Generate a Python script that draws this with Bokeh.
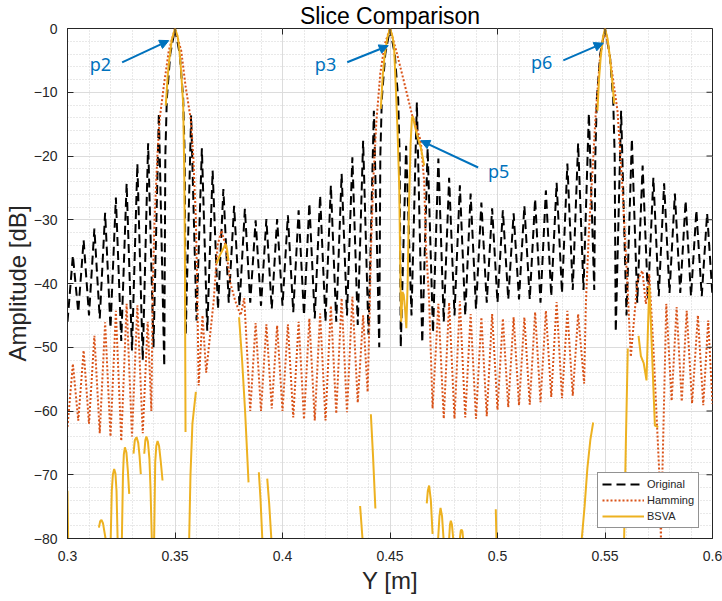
from bokeh.plotting import figure
from bokeh.models import (Range1d, FixedTicker, Arrow, NormalHead,
                          Label, Legend, LegendItem, CustomJSTickFormatter)
from bokeh.embed import file_html
from bokeh.resources import INLINE

NAN = float("nan")

# ---------------- data ----------------
X_TICKS = [0.3, 0.35, 0.4, 0.45, 0.5, 0.55, 0.6]
X_MINOR = [0.31, 0.32, 0.33, 0.34, 0.36, 0.37, 0.38, 0.39, 0.41, 0.42, 0.43, 0.44,
           0.46, 0.47, 0.48, 0.49, 0.51, 0.52, 0.53, 0.54, 0.56, 0.57, 0.58, 0.59]
Y_TICKS = [-80, -70, -60, -50, -40, -30, -20, -10, 0]
Y_MINOR = [-78, -76, -74, -72, -68, -66, -64, -62, -58, -56, -54, -52, -48, -46, -44,
           -42, -38, -36, -34, -32, -28, -26, -24, -22, -18, -16, -14, -12, -8, -6,
           -4, -2]

# Original (unweighted) slice: vertices (lobe nulls / peaks), metres and dB
ORIG_X = [0.300, 0.3025, 0.305, 0.3075, 0.310, 0.3125, 0.315, 0.3175, 0.320, 0.3225,
          0.325, 0.3275, 0.330, 0.3325, 0.335, 0.3375, 0.340, 0.3425, 0.345,
          0.3455, 0.3462, 0.3478, 0.350, 0.3522, 0.3538, 0.3545,
          0.355, 0.3575, 0.360, 0.3625, 0.365, 0.3675, 0.370, 0.3725, 0.375, 0.3775,
          0.380, 0.3825, 0.385, 0.3875, 0.390, 0.3925, 0.395, 0.3975, 0.400, 0.4025,
          0.405, 0.4075, 0.410, 0.4125, 0.415, 0.4175, 0.420, 0.4225, 0.425, 0.4275,
          0.430, 0.4325, 0.435, 0.4375, 0.440, 0.4425, 0.445,
          0.4455, 0.4462, 0.4478, 0.450, 0.4522, 0.4538, 0.4545,
          0.455, 0.4575, 0.460, 0.4625, 0.465, 0.4675, 0.470, 0.4725, 0.475, 0.4775,
          0.480, 0.4825, 0.485, 0.4875, 0.490, 0.4925, 0.495, 0.4975, 0.500, 0.5025,
          0.505, 0.5075, 0.510, 0.5125, 0.515, 0.5175, 0.520, 0.5225, 0.525, 0.5275,
          0.530, 0.5325, 0.535, 0.5375, 0.540, 0.5425, 0.545,
          0.5455, 0.5462, 0.5478, 0.550, 0.5522, 0.5538, 0.5545,
          0.555, 0.5575, 0.560, 0.5625, 0.565, 0.5675, 0.570, 0.5725, 0.575, 0.5775,
          0.580, 0.5825, 0.585, 0.5875, 0.590, 0.5925, 0.595, 0.5975, 0.600]
ORIG_DB = [-46, -35.6, -44.5, -33.2, -45, -31.4, -45.5, -28.9, -47, -26.5,
           -49, -24.3, -50.5, -21.2, -52, -18.0, -50, -13.3, -53,
           -20, -11, -4, 0, -4, -11, -20,
           -48, -13.6, -45.8, -18.8, -47.4, -22.3, -44, -25.2, -43, -27.8,
           -43.5, -28.3, -43, -30.1, -43.5, -29.9, -44, -29.9, -43.5, -29.3,
           -44.5, -28.5, -45, -27.4, -45.5, -26.2, -46, -24.6, -46, -22.8,
           -45, -20.2, -46.5, -17.6, -48, -12.9, -50,
           -20, -11, -4, 0, -4, -11, -20,
           -50, -18.4, -45, -11.6, -49.3, -18.8, -47.7, -20.4, -46, -23.4,
           -45, -24.6, -45, -25.9, -44, -27.3, -43, -28.2, -43, -28.5,
           -42.5, -29.0, -42.5, -27.8, -42.5, -26.7, -43, -25.4, -42, -24.2,
           -41.5, -21.2, -41, -18.0, -41, -13.3, -41,
           -20, -11, -4, 0, -4, -11, -20,
           -47.6, -12.9, -45, -17.3, -43, -21.5, -42.5, -23.4, -42, -24.3,
           -41.5, -25.9, -41.5, -27.0, -42, -28.5, -42, -29.0, -42]

# Hamming-weighted slice
HAM_X = [0.300, 0.3025, 0.305, 0.3075, 0.310, 0.3125, 0.315, 0.3175, 0.320, 0.3225,
         0.325, 0.3275, 0.330, 0.3325, 0.335, 0.3373, 0.3390,
         0.3397, 0.3405, 0.3418, 0.3428, 0.3448, 0.3471, 0.350, 0.3529, 0.3549,
         0.3574, 0.3585, 0.3597, 0.3603, 0.3610,
         0.3628, 0.3645, 0.3680, 0.3698, 0.3716, 0.3735, 0.3758, 0.3780, 0.3805, 0.3822,
         0.385, 0.3875, 0.390, 0.3925, 0.395, 0.3975, 0.400, 0.4025, 0.405, 0.4075,
         0.410, 0.4125, 0.415, 0.4175, 0.420, 0.4225, 0.425, 0.4275, 0.430, 0.4325,
         0.435, 0.4375, 0.4396,
         0.4405, 0.4411, 0.4422, 0.4437, 0.4455, 0.4475, 0.450, 0.4529, 0.4564,
         0.4603, 0.4643, 0.4659, 0.4667, 0.4682, 0.4698,
         0.4725, 0.475, 0.4775, 0.480, 0.4825, 0.485, 0.4875, 0.490, 0.4925, 0.495,
         0.4975, 0.500, 0.5025, 0.505, 0.5075, 0.510, 0.5125, 0.515, 0.5175, 0.520,
         0.5225, 0.525, 0.5275, 0.530, 0.5325, 0.535, 0.5375, 0.5403,
         0.5411, 0.5426, 0.5442, 0.5457, 0.5477, 0.550, 0.5523, 0.5558, 0.5581,
         0.5605, 0.5620,
         0.5651, 0.5674, 0.5690, 0.5706, 0.5725, 0.5752, 0.5760,
         0.5785, 0.5810, 0.5833, 0.5857, 0.5880, 0.5905, 0.5932, 0.5957, 0.5980, 0.600]
HAM_DB = [-62.5, -52.6, -61.5, -50.5, -62, -48.2, -63.5, -46.1, -64, -44.3,
          -64.7, -43.2, -64, -43.4, -63.5, -46, -60,
          -40, -30, -20, -14.4, -9, -3.5, 0, -3.5, -9,
          -14.4, -20, -30, -40, -56,
          -45, -54, -42.7, -34, -31.7, -34, -40, -42.7, -45, -42.3,
          -60, -46.2, -60, -46.4, -59.6, -46.6, -60, -46.4, -61, -46,
          -61.3, -45.5, -61.5, -44.7, -61.5, -43.5, -60.4, -42.3, -60.2, -42.1,
          -58.7, -45, -57,
          -45, -35.3, -24, -14.4, -7, -2.5, 0, -3.5, -8.2,
          -13.6, -17.6, -24, -34, -42.5, -59.6,
          -43.2, -61.2, -43, -61.2, -42.8, -61, -44.8, -61.2, -45.3, -60.8,
          -44.8, -59.8, -45.5, -59.4, -45.3, -59.1, -45.3, -59, -44.5, -58.6,
          -44.3, -57.8, -42.9, -58, -44.3, -57.6, -44.8, -55.7,
          -43.2, -31.2, -22.3, -13.3, -4.5, 0, -4.5, -12.9, -24.9,
          -40.6, -51.5,
          -39.5, -38, -43.2, -38.5, -50, -69.4, -80,
          -43.2, -58.4, -43.7, -58.5, -44.3, -58.8, -45, -59.1, -45.8, -58.9]

# BSVA slice (NAN = values below the axis / zeroed samples -> gaps)
BSVA_X = [0.3000, 0.3003, NAN,
          0.3146, 0.3152, 0.3158, 0.3165, 0.3172, 0.3177, NAN,
          0.3201, 0.3206, 0.3211, 0.3217, 0.3223, 0.3228, 0.3233, NAN,
          0.3253, 0.3258, 0.3262, 0.3267, 0.3274, 0.3281, 0.3287, NAN,
          0.3307, 0.3313, 0.3321, 0.3329, 0.3335, 0.3341, NAN,
          0.3357, 0.3362, 0.3367, 0.3374, 0.3381, 0.3386, 0.3392, NAN,
          0.3403, 0.3408, 0.3413, 0.3419, 0.3426, 0.3434, 0.3442, NAN,
          0.3457, 0.3466, 0.3473, 0.3485, 0.3500, 0.3512, 0.3519, 0.3528, 0.3538,
          0.3543, 0.3546, 0.3549, NAN,
          0.3566, 0.3572, 0.3581, 0.3597, NAN,
          0.3693, 0.3710, 0.3728, 0.3736, 0.3742, 0.3749, NAN,
          0.3798, 0.3812, 0.3826, 0.3842, NAN,
          0.3890, 0.3898, 0.3906, NAN,
          0.3929, 0.3938, 0.3948, NAN,
          0.4361, 0.4372, NAN,
          0.4411, 0.4421, 0.4432, NAN,
          0.4457, 0.4466, 0.4475, 0.4488, 0.4500, 0.4512, 0.4519, 0.4527, 0.4535,
          0.4543, 0.4549, 0.4552, 0.4558, 0.4564, 0.4570, 0.4576, 0.4582, 0.4588,
          0.4596, 0.4602, 0.4607, 0.4615, 0.4628, 0.4643, 0.4659, NAN,
          0.4671, 0.4676, 0.4682, 0.4690, 0.4698, NAN,
          0.4724, 0.4730, 0.4735, 0.4742, 0.4749, NAN,
          0.4775, 0.4779, 0.4783, 0.4788, 0.4794, NAN,
          0.4825, 0.4829, 0.4833, 0.4837, 0.4840, NAN,
          0.4992, 0.4995, NAN,
          0.5392, 0.5405, 0.5418, 0.5432, 0.5445, NAN,
          0.5465, 0.5472, 0.5480, 0.5490, 0.5500, 0.5512, 0.5522, 0.5533, 0.5543, NAN,
          0.5589, 0.5597, 0.5606, NAN,
          0.5656, 0.5667, 0.5680, 0.5693, 0.5699, 0.5706, 0.5712, 0.5720, 0.5732, 0.5748]
BSVA_DB = [-72.5, -80, NAN,
           -78.3, -77.3, -77.1, -77.6, -79, -80, NAN,
           -80, -72.5, -70, -69.1, -69.8, -72.5, -80, NAN,
           -80, -70, -66.8, -65.7, -66.5, -69.5, -73, NAN,
           -66.7, -64.6, -64.1, -65, -67, -69.9, NAN,
           -66.7, -64.6, -64, -64.8, -67.5, -72, -80, NAN,
           -80, -68, -65.5, -64.7, -65.5, -68, -70.9, NAN,
           -12.1, -7.5, -5, -1.8, 0, -1.2, -2.9, -6.5, -11.8,
           -22, -35, -63.3, NAN,
           -80, -70, -62, -57, NAN,
           -36.9, -35.5, -34.3, -33.8, -34.6, -36.5, NAN,
           -45.3, -52, -60, -71.2, NAN,
           -69.6, -74, -80, NAN,
           -70.6, -74.5, -80, NAN,
           -74.9, -80, NAN,
           -60.5, -67, -75.3, NAN,
           -12.6, -7.5, -4.2, -1.4, 0, -1.3, -2.9, -9.2, -16,
           -24.9, -40.6, -46, -41.3, -41.8, -44, -47, -40, -28,
           -18, -14, -13.8, -15.2, -17, -18.6, -21.5, NAN,
           -74.5, -72.5, -71.7, -74, -79.3, NAN,
           -80, -76.5, -75.2, -76.5, -80, NAN,
           -80, -77.8, -77.2, -77.8, -80, NAN,
           -80, -78.8, -78.6, -78.9, -80, NAN,
           -75.4, -80, NAN,
           -80, -75, -69, -64.5, -61.8, NAN,
           -12.9, -8, -4.5, -1.5, 0, -1.6, -4.3, -8, -11.8, NAN,
           -80, -65, -50.2, NAN,
           -48.2, -51.4, -52.5, -55.2, -48, -40.3, -45, -52, -62.3, -62.5]

SERIES_NAMES = ["Original", "Hamming", "BSVA"]

# annotations: label, text position, arrow tail, arrow tip (data units)
ANN_LABELS = ["p2", "p3", "p5", "p6"]
ANN_TEXT_X = [0.3153, 0.4200, 0.5005, 0.5205]
ANN_TEXT_Y = [-5.6, -5.5, -22.3, -5.3]
ANN_TAIL_X = [0.3254, 0.4301, 0.4910, 0.5306]
ANN_TAIL_Y = [-5.3, -5.3, -21.8, -5.0]
ANN_TIP_X = [0.3471, 0.4492, 0.4643, 0.5492]
ANN_TIP_Y = [-1.9, -2.7, -17.6, -2.3]

# ---------------- styling ----------------
FONT = "Liberation Sans"
AX_COL = "#262626"
C_ORIG = "#000000"
C_HAM = "#D95319"
C_BSVA = "#EDB120"
C_ANN = "#0072BD"
W, H = 722, 601
BORDER_L, BORDER_R, BORDER_T, BORDER_B = 67, 10, 28, 63
TICK_LEN = 6

p = figure(width=W, height=H, output_backend="svg", toolbar_location=None,
           x_range=Range1d(0.3, 0.6), y_range=Range1d(-80, 0),
           min_border_left=BORDER_L, min_border_right=BORDER_R,
           min_border_top=BORDER_T, min_border_bottom=BORDER_B,
           background_fill_color="white", border_fill_color="white")

p.title.text = "Slice Comparison"
p.title.text_font = FONT
p.title.text_font_size = "23px"
p.title.text_font_style = "normal"
p.title.text_color = "black"
p.title.align = "center"
p.title.standoff = 0
p.title.offset = 0

p.xaxis.ticker = FixedTicker(ticks=X_TICKS, minor_ticks=X_MINOR)
p.yaxis.ticker = FixedTicker(ticks=Y_TICKS, minor_ticks=Y_MINOR)
p.xaxis.formatter = CustomJSTickFormatter(code="return String(Math.round(tick*100)/100);")

for ax in (p.xaxis[0], p.yaxis[0]):
    ax.axis_line_color = AX_COL
    ax.major_tick_line_color = AX_COL
    ax.major_tick_in = TICK_LEN
    ax.major_tick_out = 0
    ax.minor_tick_line_color = None
    ax.major_label_text_font = FONT
    ax.major_label_text_font_size = "14px"
    ax.major_label_text_color = AX_COL
    ax.axis_label_text_font = FONT
    ax.axis_label_text_font_size = "24px"
    ax.axis_label_text_font_style = "normal"
    ax.axis_label_text_color = AX_COL

p.xaxis.axis_label = "Y [m]"
p.yaxis.axis_label = "Amplitude [dB]"
p.xaxis.major_label_standoff = 8
p.yaxis.major_label_standoff = 6
p.xaxis.axis_label_standoff = 3
p.yaxis.axis_label_standoff = 0

p.outline_line_color = AX_COL
for g in (p.xgrid[0], p.ygrid[0]):
    g.grid_line_color = "#dcdcdc"
    g.grid_line_width = 1
    g.minor_grid_line_color = "#d2d2d2"
    g.minor_grid_line_dash = "1 2"
    g.minor_grid_line_width = 1

r_orig = p.line(ORIG_X, ORIG_DB, line_color=C_ORIG, line_width=2, line_dash="9 5")
r_ham = p.line(HAM_X, HAM_DB, line_color=C_HAM, line_width=2, line_dash="2 2")
r_bsva = p.line(BSVA_X, BSVA_DB, line_color=C_BSVA, line_width=2)

# box ticks on the top and right edges (inward), like the reference's closed box
frame_w = W - BORDER_L - BORDER_R
frame_h = H - BORDER_T - BORDER_B
dy = TICK_LEN * 80.0 / frame_h
dx = TICK_LEN * 0.3 / frame_w
p.segment(x0=X_TICKS, y0=[0] * len(X_TICKS), x1=X_TICKS, y1=[-dy] * len(X_TICKS),
          line_color=AX_COL, line_width=1)
p.segment(x0=[0.6] * len(Y_TICKS), y0=Y_TICKS, x1=[0.6 - dx] * len(Y_TICKS), y1=Y_TICKS,
          line_color=AX_COL, line_width=1)

for lab, tx, ty, ax0, ay0, ax1, ay1 in zip(ANN_LABELS, ANN_TEXT_X, ANN_TEXT_Y,
                                            ANN_TAIL_X, ANN_TAIL_Y, ANN_TIP_X, ANN_TIP_Y):
    p.add_layout(Arrow(end=NormalHead(size=9, fill_color=C_ANN, line_color=C_ANN),
                       x_start=ax0, y_start=ay0, x_end=ax1, y_end=ay1,
                       line_color=C_ANN, line_width=2))
    p.add_layout(Label(x=tx, y=ty, text=lab, text_color=C_ANN, text_font="Noto Sans",
                       text_font_size="18px", text_align="center",
                       text_baseline="middle"))

legend = Legend(items=[LegendItem(label=SERIES_NAMES[0], renderers=[r_orig]),
                       LegendItem(label=SERIES_NAMES[1], renderers=[r_ham]),
                       LegendItem(label=SERIES_NAMES[2], renderers=[r_bsva])],
                location=(530, 10), glyph_width=42, glyph_height=14, label_height=14,
                label_text_font=FONT, label_text_font_size="11px",
                label_text_color=AX_COL, label_standoff=3, spacing=2, padding=4,
                margin=0, border_line_color=AX_COL, border_line_width=1,
                background_fill_color="white", background_fill_alpha=1.0)
p.add_layout(legend)

open("out.html", "w").write(file_html(p, INLINE))
